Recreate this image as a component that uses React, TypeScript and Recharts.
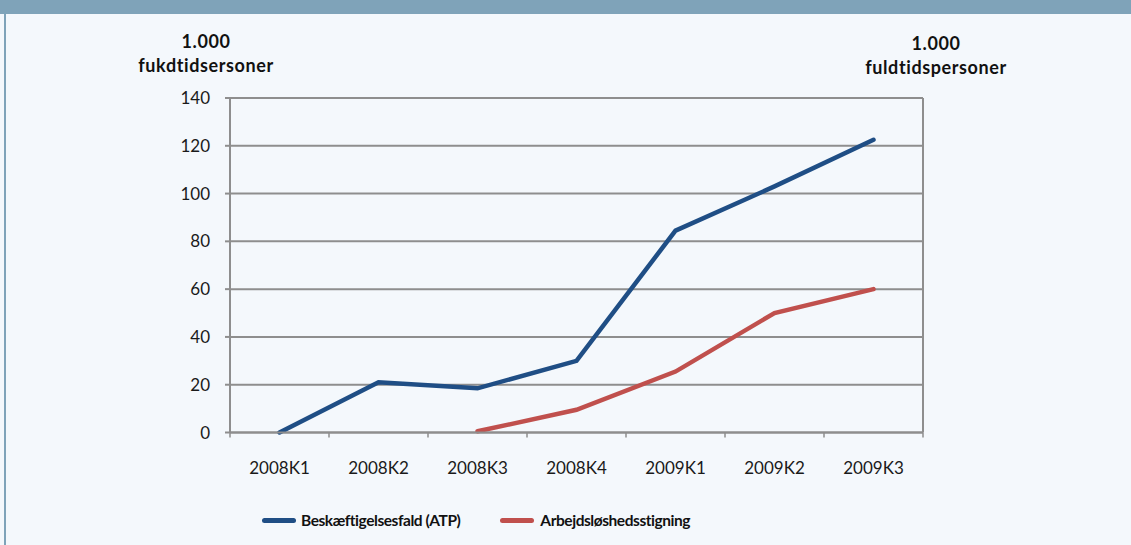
import React from "react";
import { LineChart, Line, XAxis, YAxis, CartesianGrid } from "recharts";

const categories = ["2008K1", "2008K2", "2008K3", "2008K4", "2009K1", "2009K2", "2009K3"];
const beskaeftigelsesfald = [0, 21, 18.5, 30, 84.5, 103, 122.5];
const arbejdsloshed: (number | null)[] = [null, null, 0.5, 9.5, 25.5, 50, 60];
const yTicks = [0, 20, 40, 60, 80, 100, 120, 140];
const seriesNames = ["Beskæftigelsesfald (ATP)", "Arbejdsløshedsstigning"];
const leftTitle = ["1.000", "fukdtidsersoner"];
const rightTitle = ["1.000", "fuldtidspersoner"];

const BLUE = "#1f4e85";
const RED = "#c0504d";
const GRID = "#8e8e8e";
const FRAME = "#7fa3b9";
const FONT = "Lato, 'Open Sans', sans-serif";

const data = categories.map((c, i) => ({
  cat: c,
  a: beskaeftigelsesfald[i],
  b: arbejdsloshed[i],
}));

const N = categories.length;
const HALF_BAND = 49.5;

const XTick = (props: any) => {
  const { x, y, payload, index } = props;
  const axisY = y - 5;
  return (
    <g>
      <line x1={x - HALF_BAND} y1={axisY} x2={x - HALF_BAND} y2={axisY + 5} stroke={GRID} strokeWidth={1.5} />
      {index === N - 1 && (
        <line x1={x + HALF_BAND} y1={axisY} x2={x + HALF_BAND} y2={axisY + 5} stroke={GRID} strokeWidth={1.5} />
      )}
      <text x={x} y={axisY + 41} textAnchor="middle" fontSize={17} fill="#1a1a1a" fontFamily={FONT}>
        {payload.value}
      </text>
    </g>
  );
};

const titleStyle: React.CSSProperties = {
  position: "absolute",
  width: 240,
  textAlign: "center",
  fontWeight: 700,
  fontSize: 18,
  letterSpacing: 0.6,
  lineHeight: "24px",
  color: "#111",
};

export default function App() {
  return (
    <div
      style={{
        position: "absolute",
        left: 0,
        top: 0,
        width: 1131,
        height: 545,
        background: "#f4f8fc",
        overflow: "hidden",
        fontFamily: FONT,
      }}
    >
      <div style={{ position: "absolute", left: 0, top: 0, width: 1131, height: 14, background: FRAME }} />
      <div style={{ position: "absolute", left: 4, top: 14, width: 2, height: 531, background: FRAME }} />

      <div style={{ ...titleStyle, left: 86, top: 29 }}>
        <div>{leftTitle[0]}</div>
        <div>{leftTitle[1]}</div>
      </div>
      <div style={{ ...titleStyle, left: 816, top: 31 }}>
        <div>{rightTitle[0]}</div>
        <div>{rightTitle[1]}</div>
      </div>

      <div style={{ position: "absolute", left: 0, top: 0 }}>
        <LineChart width={1131} height={545} data={data} margin={{ top: 98, right: 0, left: 0, bottom: 0 }}>
          <CartesianGrid horizontal vertical={false} stroke={GRID} strokeWidth={2} yAxisId="left" />
          <XAxis
            dataKey="cat"
            height={112.5}
            padding={{ left: HALF_BAND, right: HALF_BAND }}
            axisLine={{ stroke: GRID, strokeWidth: 2 }}
            tickLine={false}
            tickSize={5}
            tickMargin={0}
            tick={<XTick />}
            interval={0}
          />
          <YAxis
            yAxisId="left"
            width={230}
            domain={[0, 140]}
            ticks={yTicks}
            axisLine={{ stroke: GRID, strokeWidth: 2 }}
            tickLine={{ stroke: GRID, strokeWidth: 2 }}
            tickSize={5}
            tickMargin={15}
            tick={{ fontSize: 17, fill: "#1a1a1a", fontFamily: FONT }}
          />
          <YAxis
            yAxisId="right"
            orientation="right"
            width={208}
            domain={[0, 140]}
            ticks={yTicks}
            axisLine={{ stroke: GRID, strokeWidth: 2 }}
            tickLine={{ stroke: GRID, strokeWidth: 2 }}
            tickSize={5}
            tickMargin={15}
            tick={{ fontSize: 17, fill: "#595959", fontFamily: FONT }}
          />
          <Line
            yAxisId="left"
            type="linear"
            dataKey="a"
            name={seriesNames[0]}
            stroke={BLUE}
            strokeWidth={4.5}
            strokeLinecap="round"
            dot={false}
            isAnimationActive={false}
          />
          <Line
            yAxisId="left"
            type="linear"
            dataKey="b"
            name={seriesNames[1]}
            stroke={RED}
            strokeWidth={4.5}
            strokeLinecap="round"
            dot={false}
            isAnimationActive={false}
          />
        </LineChart>
      </div>

      <div
        style={{
          position: "absolute",
          left: 262,
          top: 509,
          display: "flex",
          alignItems: "center",
          fontWeight: 700,
          fontSize: 15.5,
          letterSpacing: -0.45,
          color: "#111",
          lineHeight: "22px",
        }}
      >
        <div style={{ width: 34, height: 5, borderRadius: 3, background: BLUE, marginRight: 5 }} />
        <div style={{ marginRight: 40 }}>{seriesNames[0]}</div>
        <div style={{ width: 34, height: 5, borderRadius: 3, background: RED, marginRight: 6 }} />
        <div>{seriesNames[1]}</div>
      </div>
    </div>
  );
}
